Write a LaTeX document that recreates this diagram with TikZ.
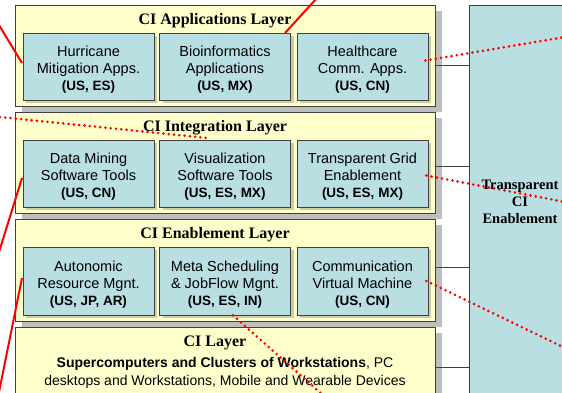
\documentclass[tikz,border=0pt]{standalone}
\usepackage{fontspec}
\setmainfont{Liberation Serif}
\newfontfamily\arialf{Liberation Sans}
\usetikzlibrary{shadows,calc}
\definecolor{layerfill}{HTML}{FFFFCC}
\definecolor{boxfill}{HTML}{B9DFE3}
\definecolor{boxshadow}{HTML}{CDCDA6}
\definecolor{layershadow}{HTML}{BEBEBE}
\definecolor{edgec}{HTML}{404040}
\definecolor{redc}{HTML}{FF0000}
\newcommand\cc[1]{{\fontsize{13.5}{17}\selectfont\bfseries #1}}
\begin{document}
\begin{tikzpicture}[x=1pt,y=-1pt,
  layer/.style={draw=edgec, line width=0.8pt, fill=layerfill, anchor=north west,
    minimum width=420pt, minimum height=101pt, inner sep=0pt,
    drop shadow={shadow xshift=7pt, shadow yshift=-6pt, fill=layershadow, opacity=1}},
  cbox/.style={draw=edgec, line width=0.8pt, fill=boxfill, minimum width=131pt,
    minimum height=67pt, inner sep=0pt, align=center,
    font=\arialf\fontsize{14.5}{16.8}\selectfont, text height=51pt, text depth=3pt,
    drop shadow={shadow xshift=3pt, shadow yshift=-3pt, fill=boxshadow, opacity=1}},
  ltitle/.style={font=\fontsize{16}{18}\selectfont\bfseries, inner sep=0pt},
  panel/.style={draw=edgec, line width=0.8pt, fill=boxfill, anchor=north west,
    minimum width=120pt, minimum height=420pt, inner sep=0pt},
  ptext/.style={font=\fontsize{14.5}{17}\selectfont\bfseries, align=center, inner sep=0pt},
  link/.style={draw=edgec, line width=0.7pt},
  redsolid/.style={draw=redc, line width=2pt},
  reddot/.style={draw=redc, line width=2.9pt, line cap=round, dash pattern=on 0pt off 5.3pt}
]
\useasboundingbox (0,0) rectangle (562,393);
\clip (0,0) rectangle (562,393);
\fill[white] (0,0) rectangle (562,393);

% right panel
\node[panel] (panel) at (469,5) {};
\node[ptext] (ptxt) at (520,201.5) {Transparent\\CI\\Enablement};

% layers
\node[layer] (appL) at (15,5) {};
\node[ltitle] (appT) at (215,20.5) {CI Applications Layer};
\node[cbox] (hurr) at (88.5,66.5) {Hurricane\\Mitigation Apps.\\\cc{(US, ES)}};
\node[cbox] (bio) at (225,66.5) {Bioinformatics\\Applications\\\cc{(US, MX)}};
\node[cbox] (health) at (362.5,66.5) {Healthcare\\Comm. Apps.\\\cc{(US, CN)}};

\node[layer] (intL) at (15,112) {};
\node[ltitle] (intT) at (215,127.5) {CI Integration Layer};
\node[cbox] (dm) at (88.5,173.5) {Data Mining\\Software Tools\\\cc{(US, CN)}};
\node[cbox] (vis) at (225,173.5) {Visualization\\Software Tools\\\cc{(US, ES, MX)}};
\node[cbox] (tge) at (362.5,173.5) {Transparent Grid\\Enablement\\\cc{(US, ES, MX)}};

\node[layer, minimum height=102pt] (enL) at (15,219) {};
\node[ltitle] (enT) at (215,234.5) {CI Enablement Layer};
\node[cbox, minimum height=68pt] (arm) at (88.5,281) {Autonomic\\Resource Mgnt.\\\cc{(US, JP, AR)}};
\node[cbox, minimum height=68pt] (meta) at (225,281) {Meta Scheduling\\\& JobFlow Mgnt.\\\cc{(US, ES, IN)}};
\node[cbox, minimum height=68pt] (cvm) at (362.5,281) {Communication\\Virtual Machine\\\cc{(US, CN)}};

\node[layer, minimum height=90pt] (ciL) at (15,327) {};
\node[ltitle] (ciT) at (215,342.5) {CI Layer};
\node[align=center, inner sep=0pt, font=\arialf\fontsize{14}{18}\selectfont] (ciTxt) at (225,373)
  {\textbf{Supercomputers and Clusters of Workstations}, PC\\desktops and Workstations, Mobile and Wearable Devices};

% links to panel
\draw[link] (appL.north east) ++(0,60) coordinate (l1) -- (l1 -| panel.west);
\draw[link] (intL.north east) ++(0,54) coordinate (l2) -- (l2 -| panel.west);
\draw[link] (enL.north east) ++(0,48) coordinate (l3) -- (l3 -| panel.west);
\draw[link] (ciL.north east) ++(0,40) coordinate (l4) -- (l4 -| panel.west);

% red overlay lines
\coordinate (s1a) at (-1,25);  \coordinate (s1b) at (22,63);
\coordinate (s2a) at (317,-2); \coordinate (s2b) at (285,33);
\coordinate (s3a) at (22,178); \coordinate (s3b) at (-1,252);
\coordinate (s4a) at (22,278); \coordinate (s4b) at (-1,392);
\draw[redsolid] (s1a) -- (s1b);
\draw[redsolid] (s2a) -- (s2b);
\draw[redsolid] (s3a) -- (s3b);
\draw[redsolid] (s4a) -- (s4b);

\coordinate (d1a) at (0,117);  \coordinate (d1b) at (207,138);
\coordinate (d2b) at (565,37);
\coordinate (d3b) at (565,202);
\coordinate (d4b) at (565,348);
\coordinate (d5b) at (324,396);
\draw[reddot] (d1a) -- (d1b);
\draw[reddot] ($(health.east)+(-3,-6)$) -- (d2b);
\draw[reddot] ($(tge.east)+(-2,2)$) -- (d3b);
\draw[reddot] ($(cvm.east)+(-2,0)$) -- (d4b);
\draw[reddot] ($(meta.south)+(8,0)$) -- (d5b);
\end{tikzpicture}
\end{document}
